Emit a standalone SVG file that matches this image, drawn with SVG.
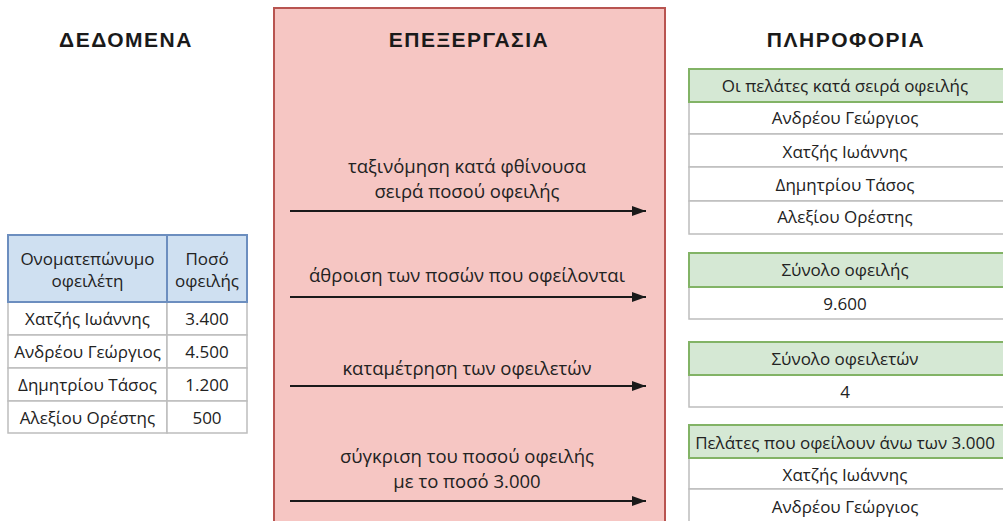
<svg xmlns="http://www.w3.org/2000/svg" width="1003" height="521" viewBox="0 0 1003 521">
<defs>
<marker id="ah" markerWidth="14" markerHeight="10" refX="14" refY="5" orient="auto" markerUnits="userSpaceOnUse">
<path d="M0,0 L14,5 L0,10 Z" fill="#1a1a1a"/>
</marker>
<style>
.title{font-family:"Liberation Sans",Arial,sans-serif;font-weight:bold;font-size:21px;letter-spacing:1.5px;fill:#1a1a1a;text-anchor:middle}
.t{font-family:"Open Sans","Noto Sans",sans-serif;font-size:17px;fill:#222;text-anchor:middle;dominant-baseline:central}
.lbl{font-family:"Open Sans","Noto Sans",sans-serif;font-size:18.5px;fill:#222;text-anchor:middle;dominant-baseline:central}
.hb{fill:#CFE0F1;stroke:#6C8EBF;stroke-width:2}
.cell{fill:#fff;stroke:#BDBDBD;stroke-width:1.5}
.hg{fill:#D5E8D4;stroke:#82B366;stroke-width:2}
.arr{stroke:#1a1a1a;stroke-width:2;fill:none;marker-end:url(#ah)}
</style>
</defs>
<rect width="1003" height="521" fill="#fff"/>

<g id="panel-processing">
<rect x="274" y="8" width="391" height="530" fill="#F6C6C3" stroke="#B85450" stroke-width="2"/>
<text class="title" x="469" y="47">ΕΠΕΞΕΡΓΑΣΙΑ</text>
</g>

<text class="title" x="126" y="47">ΔΕΔΟΜΕΝΑ</text>
<text class="title" x="846" y="47">ΠΛΗΡΟΦΟΡΙΑ</text>

<g id="data-table">
<rect class="cell" x="8" y="302" width="159" height="33"/>
<rect class="cell" x="167" y="302" width="80" height="33"/>
<rect class="cell" x="8" y="335" width="159" height="33"/>
<rect class="cell" x="167" y="335" width="80" height="33"/>
<rect class="cell" x="8" y="368" width="159" height="33"/>
<rect class="cell" x="167" y="368" width="80" height="33"/>
<rect class="cell" x="8" y="401" width="159" height="32"/>
<rect class="cell" x="167" y="401" width="80" height="32"/>
<rect class="hb" x="8" y="235" width="159" height="67"/>
<rect class="hb" x="167" y="235" width="80" height="67"/>
<text class="t" x="87.5" y="258">Ονοματεπώνυμο</text>
<text class="t" x="87.5" y="280">οφειλέτη</text>
<text class="t" x="207" y="258">Ποσό</text>
<text class="t" x="207" y="280">οφειλής</text>
<text class="t" x="87.5" y="318">Χατζής Ιωάννης</text>
<text class="t" x="207" y="318">3.400</text>
<text class="t" x="87.5" y="351">Ανδρέου Γεώργιος</text>
<text class="t" x="207" y="351">4.500</text>
<text class="t" x="87.5" y="384">Δημητρίου Τάσος</text>
<text class="t" x="207" y="384">1.200</text>
<text class="t" x="87.5" y="417">Αλεξίου Ορέστης</text>
<text class="t" x="207" y="417">500</text>
</g>

<g id="connectors">
<line class="arr" x1="290" y1="211" x2="646" y2="211"/>
<line class="arr" x1="290" y1="297" x2="646" y2="297"/>
<line class="arr" x1="290" y1="386" x2="646" y2="386"/>
<line class="arr" x1="290" y1="501" x2="646" y2="501"/>
</g>

<g id="labels">
<text class="lbl" x="467" y="165">ταξινόμηση κατά φθίνουσα</text>
<text class="lbl" x="467" y="190">σειρά ποσού οφειλής</text>
<text class="lbl" x="467" y="274">άθροιση των ποσών που οφείλονται</text>
<text class="lbl" x="467" y="367">καταμέτρηση των οφειλετών</text>
<text class="lbl" x="467" y="455">σύγκριση του ποσού οφειλής</text>
<text class="lbl" x="467" y="480">με το ποσό 3.000</text>
</g>

<g id="info-sorted">
<rect class="cell" x="689" y="102" width="320" height="32"/>
<rect class="cell" x="689" y="134" width="320" height="33"/>
<rect class="cell" x="689" y="167" width="320" height="34"/>
<rect class="cell" x="689" y="201" width="320" height="33"/>
<rect class="hg" x="689" y="69" width="320" height="33"/>
<text class="t" x="845" y="85">Οι πελάτες κατά σειρά οφειλής</text>
<text class="t" x="845" y="117">Ανδρέου Γεώργιος</text>
<text class="t" x="845" y="151">Χατζής Ιωάννης</text>
<text class="t" x="845" y="184">Δημητρίου Τάσος</text>
<text class="t" x="845" y="216">Αλεξίου Ορέστης</text>
</g>

<g id="info-total">
<rect class="cell" x="689" y="287" width="320" height="32"/>
<rect class="hg" x="689" y="253" width="320" height="34"/>
<text class="t" x="845" y="269">Σύνολο οφειλής</text>
<text class="t" x="845" y="303">9.600</text>
</g>

<g id="info-count">
<rect class="cell" x="689" y="375" width="320" height="32"/>
<rect class="hg" x="689" y="342" width="320" height="33"/>
<text class="t" x="845" y="358">Σύνολο οφειλετών</text>
<text class="t" x="845" y="391">4</text>
</g>

<g id="info-over">
<rect class="cell" x="689" y="458" width="320" height="31"/>
<rect class="cell" x="689" y="489" width="320" height="40"/>
<rect class="hg" x="689" y="425" width="320" height="33"/>
<text class="t" x="845" y="442">Πελάτες που οφείλουν άνω των 3.000</text>
<text class="t" x="845" y="474">Χατζής Ιωάννης</text>
<text class="t" x="845" y="506">Ανδρέου Γεώργιος</text>
</g>
</svg>
